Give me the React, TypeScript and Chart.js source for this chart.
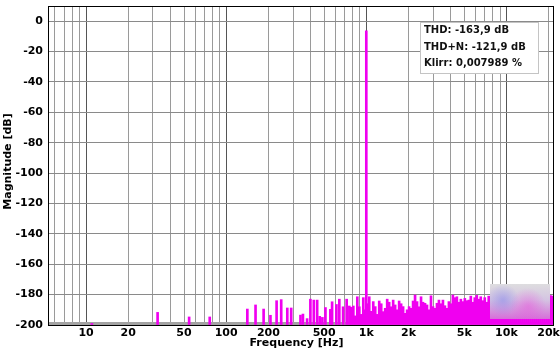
import React, { useEffect, useRef } from 'react';
import { Chart, registerables } from 'chart.js';

Chart.register(...registerables);

// ---- axis definitions ----
const xMinHz = 5.35;
const xMaxHz = 21500;
const xGridValues = [6, 7, 8, 9, 10, 20, 30, 40, 50, 60, 70, 80, 90, 100, 200, 300, 400, 500, 600, 700, 800, 900, 1000, 2000, 3000, 4000, 5000, 6000, 7000, 8000, 9000, 10000, 20000];
const xLabeledValues = [10, 20, 50, 100, 200, 500, 1000, 2000, 5000, 10000, 20000];
const xLabels = ['10', '20', '50', '100', '200', '500', '1k', '2k', '5k', '10k', '20k'];
const xMajorValues = [10, 100, 1000, 10000];
const yTickValues = [-200, -180, -160, -140, -120, -100, -80, -60, -40, -20, 0];
const yMin = -200;
const yMax = 10;

// ---- spectrum: isolated lines (Hz, dB) ----
const spikeFreqs = [11, 32.4, 54.4, 76.3, 141.6, 162, 185, 207, 229, 247, 273, 291, 339, 353, 378, 399, 422, 446, 465, 486, 511, 554, 570, 612, 642, 683, 724, 1000];
const spikeLevels = [-199, -191.7, -194.7, -194.7, -189.5, -186.8, -189.5, -193.6, -184, -183.3, -188.8, -188.8, -193.5, -192.8, -195.8, -183, -183.6, -183.6, -194.3, -195, -188.5, -189.7, -184.7, -186.5, -183, -188, -183, -6.4];

// ---- spectrum: dense noise floor from 757 Hz to 21.3 kHz (log-spaced bins) ----
const noiseStartHz = 757;
const noiseEndHz = 21300;
const noiseLevels = [
  -187.5, -188.3, -187.5, -194, -181.4, -188, -193, -182, -190, -186,
  -181.4, -191, -184.6, -187.9, -193, -184.2, -186, -191.2, -189, -183,
  -185, -188, -183.6, -186.8, -190, -184.2, -186, -187.9, -192.3, -190,
  -187.9, -189, -184.2, -180.3, -184.6, -188, -181.4, -185, -185.7, -186.8,
  -190, -180.8, -187.9, -189, -185.7, -183.6, -186, -183.6, -187.3, -189,
  -184.6, -186, -180.3, -182, -181.4, -185, -183, -184.6, -182.5, -184,
  -183.6, -181, -185, -182, -180.5, -183, -181.4, -184, -182, -185,
  -181, -183, -182, -184, -181.5, -183, -182, -184.5, -181, -183,
  -182, -184, -181, -183.5, -182, -180.5, -183, -182, -184, -181,
  -183, -182, -180.5, -183, -181.5, -184, -182, -181, -183, -182,
  -181, -180.6, -181,
];

const floorLevel = -198;

const statLines = ['THD: -163,9 dB', 'THD+N: -121,9 dB', 'Klirr: 0,007989 %'];
const xTitle = 'Frequency [Hz]';
const yTitle = 'Magnitude [dB]';

const MAGENTA = 'rgb(240,0,240)';
const FONT = 'DejaVu Sans';

const decorPlugin = {
  id: 'decor',
  afterDatasetsDraw(chart: any) {
    const { ctx, chartArea: ca } = chart;
    ctx.save();
    // blurred watermark patch
    const wx = 490, wy = 284, ww = 60, wh = 35;
    const g = ctx.createLinearGradient(0, wy, 0, wy + wh);
    g.addColorStop(0, 'rgb(222,221,223)');
    g.addColorStop(0.45, 'rgb(212,196,226)');
    g.addColorStop(1, 'rgb(214,110,216)');
    ctx.fillStyle = g;
    ctx.fillRect(wx, wy, ww, wh);
    const rb = ctx.createRadialGradient(503, 300, 1, 503, 300, 16);
    rb.addColorStop(0, 'rgba(140,140,235,0.55)');
    rb.addColorStop(1, 'rgba(140,140,235,0)');
    ctx.fillStyle = rb;
    ctx.fillRect(wx, wy, ww, wh);
    const rp = ctx.createRadialGradient(528, 306, 1, 528, 306, 18);
    rp.addColorStop(0, 'rgba(235,80,220,0.45)');
    rp.addColorStop(1, 'rgba(235,80,220,0)');
    ctx.fillStyle = rp;
    ctx.fillRect(wx, wy, ww, wh);

    // stats box
    const bx = 420, by = 22, bw = 118, bh = 51;
    ctx.fillStyle = '#ffffff';
    ctx.fillRect(bx, by, bw, bh);
    ctx.strokeStyle = '#c4c4c4';
    ctx.lineWidth = 1;
    ctx.strokeRect(bx + 0.5, by + 0.5, bw, bh);
    ctx.fillStyle = '#111';
    ctx.font = `bold 10px "${FONT}"`;
    ctx.textAlign = 'left';
    ctx.textBaseline = 'middle';
    const ys = [30.5, 47, 63.5];
    statLines.forEach((t, i) => ctx.fillText(t, 424, ys[i]));

    // plot frame
    ctx.strokeStyle = '#000';
    ctx.lineWidth = 1;
    ctx.strokeRect(ca.left + 0.5, ca.top + 0.5, ca.width, ca.height);
    ctx.restore();
  },
  afterDraw(chart: any) {
    const { ctx } = chart;
    ctx.save();
    ctx.fillStyle = '#000';
    ctx.font = `bold 11px "${FONT}"`;
    ctx.textAlign = 'center';
    ctx.textBaseline = 'middle';
    ctx.fillText(xTitle, 296.5, 343.5);
    ctx.translate(8.5, 161.5);
    ctx.rotate(-Math.PI / 2);
    ctx.fillText(yTitle, 0, 0);
    ctx.restore();
  },
};

export default function App() {
  const ref = useRef<HTMLCanvasElement | null>(null);

  useEffect(() => {
    if (!ref.current) return;
    const n = noiseLevels.length;
    const noisePoints = noiseLevels.map((y, i) => ({
      x: noiseStartHz * Math.pow(noiseEndHz / noiseStartHz, i / (n - 1)),
      y,
    }));
    const spikePoints = spikeFreqs.map((f, i) => ({ x: f, y: spikeLevels[i] }));
    const spectrum = [...spikePoints, ...noisePoints].sort((a, b) => a.x - b.x);
    const floorPoints = [
      { x: xMinHz, y: floorLevel },
      { x: xMaxHz, y: floorLevel },
    ];

    const tickFont = { family: FONT, size: 11, weight: 'bold' as const };

    const chart = new Chart(ref.current, {
      type: 'bar',
      data: {
        datasets: [
          {
            type: 'bar',
            data: spectrum as any,
            backgroundColor: MAGENTA,
            borderWidth: 0,
            barThickness: 2,
            base: yMin,
            grouped: false,
            order: 0,
          } as any,
          {
            type: 'line',
            data: floorPoints as any,
            fill: 'start',
            backgroundColor: 'rgb(163,163,163)',
            borderWidth: 0,
            pointRadius: 0,
            order: 1,
          } as any,
        ],
      },
      options: {
        responsive: false,
        animation: false,
        devicePixelRatio: 1,
        layout: { padding: { top: 6, right: 7, left: 0, bottom: 0 } },
        plugins: { legend: { display: false }, tooltip: { enabled: false } },
        scales: {
          x: {
            type: 'logarithmic',
            min: xMinHz,
            max: xMaxHz,
            offset: false,
            afterBuildTicks: (s: any) => {
              s.ticks = xGridValues.map((v) => ({ value: v }));
            },
            afterFit: (s: any) => {
              s.height = 27;
              s.paddingLeft = 0;
              s.paddingRight = 0;
            },
            ticks: {
              autoSkip: false,
              maxRotation: 0,
              minRotation: 0,
              padding: 2,
              color: '#000',
              font: tickFont,
              callback: (v: any) => {
                const idx = xLabeledValues.indexOf(Number(v));
                return idx >= 0 ? xLabels[idx] : '';
              },
            },
            grid: {
              offset: false,
              drawTicks: false,
              lineWidth: 1,
              color: (c: any) =>
                c.tick && xMajorValues.includes(c.tick.value) ? '#555555' : '#9a9a9a',
            },
            border: { display: false },
          },
          y: {
            type: 'linear',
            min: yMin,
            max: yMax,
            afterBuildTicks: (s: any) => {
              s.ticks = yTickValues.map((v) => ({ value: v }));
            },
            afterFit: (s: any) => {
              s.width = 48;
              s.paddingTop = 0;
              s.paddingBottom = 0;
            },
            ticks: { padding: 5, color: '#000', font: tickFont },
            grid: { drawTicks: false, color: '#8a8a8a', lineWidth: 1 },
            border: { display: false },
          },
        },
      } as any,
      plugins: [decorPlugin],
    });
    return () => chart.destroy();
  }, []);

  return (
    <div style={{ position: 'fixed', left: 0, top: 0, width: 560, height: 352, background: '#fff' }}>
      <canvas ref={ref} width={560} height={352} style={{ display: 'block' }} />
    </div>
  );
}
